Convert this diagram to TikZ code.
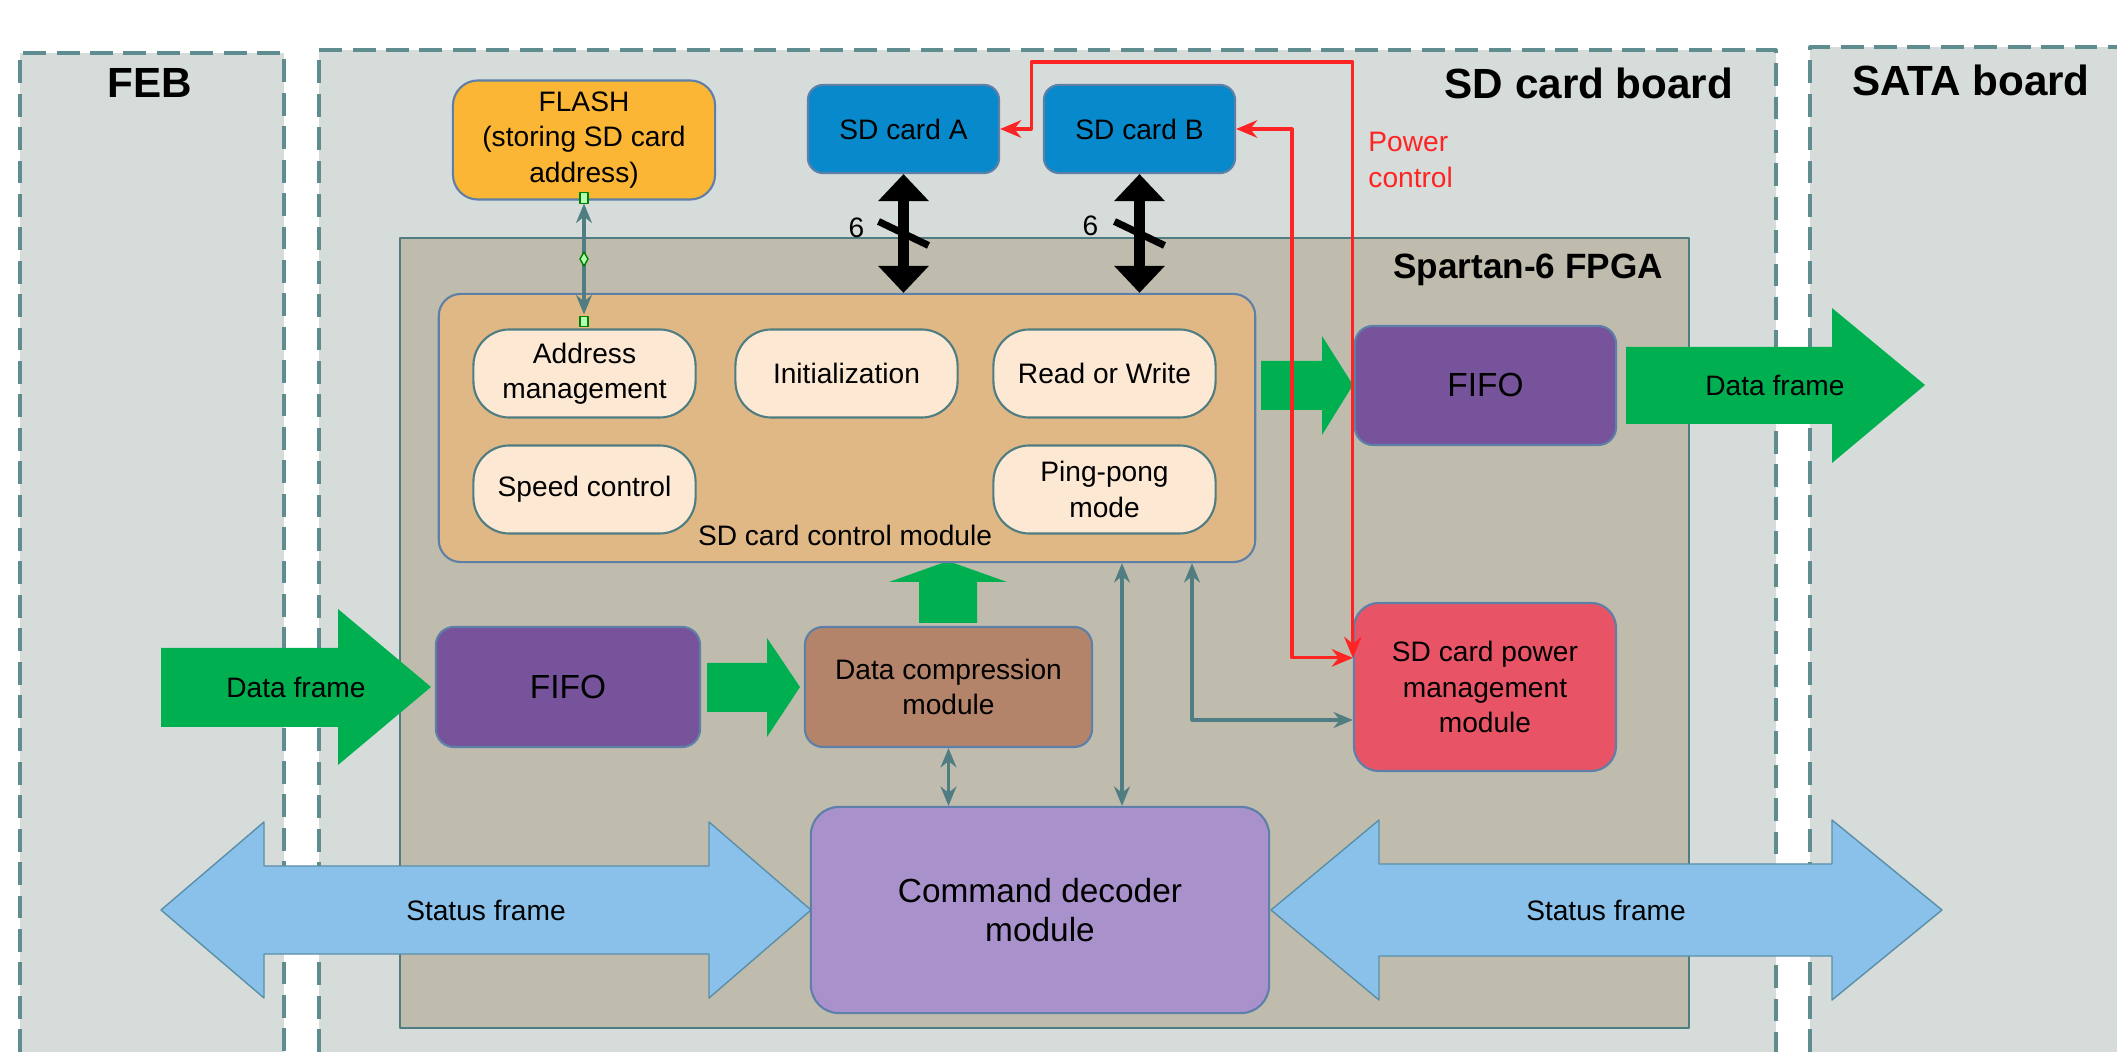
\documentclass[tikz,border=0pt]{standalone}
\usepackage{fontspec}
\setmainfont{Liberation Sans}
\usetikzlibrary{arrows.meta,calc}

\definecolor{panelc}{HTML}{D5DCD9}
\definecolor{dashc}{HTML}{5F8C8E}
\definecolor{fpgac}{HTML}{BFBCAE}
\definecolor{tealc}{HTML}{4F7D81}
\definecolor{edgec}{HTML}{5D7FA8}
\definecolor{ctrlc}{HTML}{DFB886}
\definecolor{pillc}{HTML}{FDE9D3}
\definecolor{flashc}{HTML}{FBB636}
\definecolor{sdc}{HTML}{0789CB}
\definecolor{fifoc}{HTML}{76539A}
\definecolor{dcc}{HTML}{B3836A}
\definecolor{pwrc}{HTML}{E85466}
\definecolor{cmdc}{HTML}{A991CC}
\definecolor{greenc}{HTML}{00B050}
\definecolor{bluec}{HTML}{8AC1EA}
\definecolor{blueedge}{HTML}{5B8FA8}
\definecolor{redc}{HTML}{FF2424}

\tikzset{
  box/.style={draw=edgec, line width=0.6pt, rounded corners=0.18cm, align=center,
    inner sep=0pt, font=\fontsize{8}{10}\selectfont},
  pill/.style={box, fill=pillc, draw=tealc, rounded corners=0.36cm,
    minimum width=2.22cm, minimum height=0.88cm},
  bigtxt/.style={font=\fontsize{9.5}{11.3}\selectfont},
  smalltxt/.style={font=\fontsize{8}{10}\selectfont, align=center},
  title/.style={font=\fontsize{12}{14}\bfseries\selectfont},
  dashline/.style={draw=dashc, line width=0.9pt, dash pattern=on 6.5pt off 3pt},
  conn/.style={draw=tealc, line width=0.9pt,
    {Stealth[length=5.5pt,width=4.5pt]}-{Stealth[length=5.5pt,width=4.5pt]}},
  bus/.style={line width=3.2pt, {Triangle[length=7.7pt,width=14pt]}-{Triangle[length=7.7pt,width=14pt]}},
  redline/.style={draw=redc, line width=0.9pt,
    {Stealth[length=6pt,width=5pt]}-{Stealth[length=6pt,width=5pt]}},
  garrow/.style={fill=greenc},
  barrow/.style={fill=bluec, draw=blueedge, line width=0.4pt},
  pinbox/.style={fill=green!30, draw=green!50!black, line width=0.4pt}
}

\begin{document}
\begin{tikzpicture}[x=0.01cm,y=-0.01cm,line join=round]
\useasboundingbox (0,0) rectangle (2117,1052);
\fill[white] (0,0) rectangle (2117,1052);
% boards
\fill[panelc] (20,53) rectangle (284,1052);
\draw[dashline] (20,1052) -- (20,53) -- (284,53) -- (284,1052);
\fill[panelc] (319,50) rectangle (1776,1052);
\draw[dashline] (319,1052) -- (319,50) -- (1776,50) -- (1776,1052);
\fill[panelc] (1810,47) rectangle (2117,1052);
\draw[dashline] (1810,1052) -- (1810,47) -- (2117,47);
\node[title] (feb) at (150,83) {FEB};
\node[title] (sdboard) at (1589,83) {SD card board};
\node[title] (sata) at (1971,80) {SATA board};

% FPGA
\draw[fill=fpgac, draw=tealc, line width=0.8pt] (400,238) rectangle (1689,1028);
\node[font=\fontsize{10}{12}\bfseries\selectfont] (fpga) at (1528,270) {Spartan-6 FPGA};

% big arrows
\fill[garrow] (161,648) -- (338,648) -- (338,609) -- (431,687) -- (338,765) -- (338,727) -- (161,727) -- cycle;
\fill[garrow] (707,663) -- (767,663) -- (767,638) -- (800,687) -- (767,737) -- (767,712) -- (707,712) -- cycle;
\fill[garrow] (919,623) -- (919,582) -- (889,582) -- (948,561) -- (1007,582) -- (977,582) -- (977,623) -- cycle;
\fill[garrow] (1261,361) -- (1322,361) -- (1322,336) -- (1353,385) -- (1322,435) -- (1322,410) -- (1261,410) -- cycle;
\fill[garrow] (1626,347) -- (1832,347) -- (1832,308) -- (1925,385) -- (1832,463) -- (1832,424) -- (1626,424) -- cycle;
\draw[barrow] (161,910) -- (264,822) -- (264,866) -- (709,866) -- (709,822) -- (811,910)
  -- (709,998) -- (709,954) -- (264,954) -- (264,998) -- cycle;
\draw[barrow] (1271,910) -- (1379,820) -- (1379,864) -- (1832,864) -- (1832,820) -- (1942,910)
  -- (1832,1000) -- (1832,956) -- (1379,956) -- (1379,1000) -- cycle;
\node[smalltxt] (dfin) at (296,687) {Data frame};
\node[smalltxt] (dfout) at (1775,385) {Data frame};
\node[smalltxt] (stL) at (486,910) {Status frame};
\node[smalltxt] (stR) at (1606,910) {Status frame};

% blocks
\node[box, fill=flashc, minimum width=2.62cm, minimum height=1.19cm, rounded corners=0.25cm] (flash) at (584,140) {FLASH\\(storing SD card\\address)};
\node[box, fill=sdc, minimum width=1.91cm, minimum height=0.88cm, rounded corners=0.15cm] (sdA) at (903.5,129) {SD card A};
\node[box, fill=sdc, minimum width=1.91cm, minimum height=0.88cm, rounded corners=0.15cm] (sdB) at (1139.5,129) {SD card B};
\node[box, fill=ctrlc, minimum width=8.16cm, minimum height=2.68cm, rounded corners=0.22cm] (ctrl) at (847,428) {};
\node[smalltxt] (ctrllbl) at (845,535) {SD card control module};
\node[pill] (addr) at (584.5,373.5) {Address\\management};
\node[pill] (init) at (846.5,373.5) {Initialization};
\node[pill] (rw) at (1104.5,373.5) {Read or Write};
\node[pill] (speed) at (584.5,489.5) {Speed control};
\node[pill] (ping) at (1104.5,489.5) {Ping-pong\\mode};
\node[box, bigtxt, fill=fifoc, minimum width=2.61cm, minimum height=1.19cm] (fifoR) at (1485.5,385.5) {FIFO};
\node[box, fill=pwrc, minimum width=2.62cm, minimum height=1.68cm, rounded corners=0.25cm] (power) at (1485,687) {SD card power\\management\\module};
\node[box, bigtxt, fill=fifoc, minimum width=2.64cm, minimum height=1.2cm] (fifoL) at (568,687) {FIFO};
\node[box, fill=dcc, minimum width=2.87cm, minimum height=1.2cm] (dc) at (948.5,687) {Data compression\\module};
\node[box, bigtxt, fill=cmdc, minimum width=4.58cm, minimum height=2.06cm, rounded corners=0.28cm] (cmd) at (1040,910) {Command decoder\\module};

% connectors
\draw[conn, shorten <=0.03cm, shorten >=0.14cm] (flash.south) -- (flash.south |- addr.north);
\draw[pinbox] ($(flash.south)+(-4,-8)$) rectangle ++(8,11);
\draw[pinbox] ($(flash.south |- addr.north)+(-4,-12)$) rectangle ++(8,10);
\draw[pinbox] (584,252) -- (588,259) -- (584,266) -- (580,259) -- cycle;

\draw[bus] (sdA.south) -- (sdA.south |- ctrl.north) coordinate[pos=0.5] (busA);
\draw[bus] (sdB.south) -- (sdB.south |- ctrl.north) coordinate[pos=0.5] (busB);
\draw[line width=2pt] ($(busA)+(-25,-12)$) -- ($(busA)+(25,12)$);
\draw[line width=2pt] ($(busB)+(-25,-12)$) -- ($(busB)+(25,12)$);
\node[smalltxt] (sixA) at ($(busA)+(-47,-6)$) {6};
\node[smalltxt] (sixB) at ($(busB)+(-49,-8)$) {6};

\draw[conn] (dc.south) -- (dc.south |- cmd.north);
\draw[conn] (1122,0 |- ctrl.south) -- (1122,0 |- cmd.north);
\draw[conn] (1192,0 |- ctrl.south) |- (power.west |- 0,720);

% power control
\coordinate (pwrin) at ($(power.north west)+(0,56)$);
\draw[redline] (sdA.east) -- ++(31,0) |- (pwrin |- 0,62) -- (pwrin);
\draw[redline] (sdB.east) -| (1292,0 |- pwrin) -- (pwrin);
\node[font=\fontsize{8}{10}\selectfont, text=redc, align=left, anchor=west] (pwrlbl) at (1356,160) {Power\\control};
\end{tikzpicture}
\end{document}
